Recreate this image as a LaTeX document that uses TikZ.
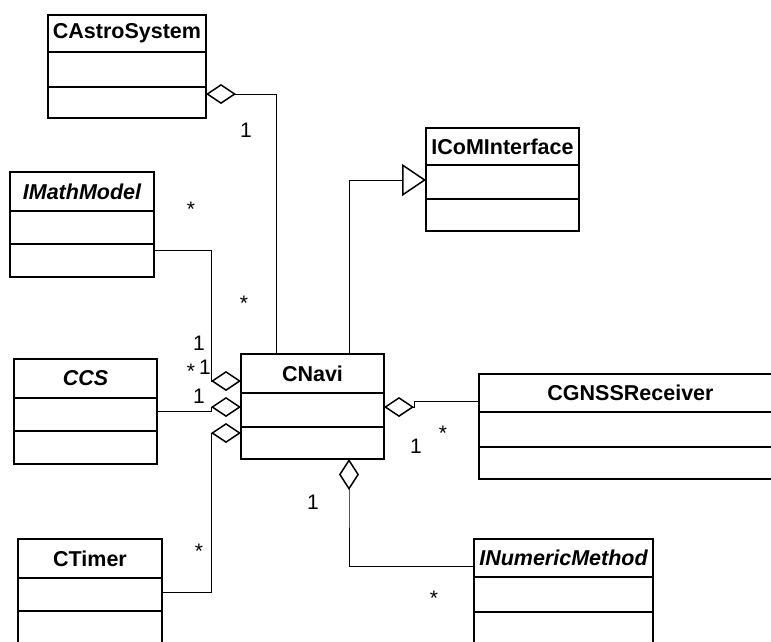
\documentclass[tikz,border=0pt]{standalone}
\usepackage{fontspec}
\setmainfont{Liberation Sans}
\usetikzlibrary{arrows.meta}

\tikzset{
  classbox/.style={draw=black, line width=1.6pt, fill=white, inner sep=0pt, outer sep=0pt, rectangle},
  divider/.style={draw=black, line width=1.6pt},
  classtitle/.style={font=\bfseries\fontsize{21.5}{25}\selectfont, inner sep=0pt},
  abstracttitle/.style={font=\bfseries\itshape\fontsize{21.5}{25}\selectfont, inner sep=0pt},
  mult/.style={font=\fontsize{21}{25}\selectfont, inner sep=0pt},
  link/.style={draw=black, line width=1pt},
  aggr/.style={link, {Diamond[open, length=30pt, width=20pt, line width=1.5pt]}-},
  aggrv/.style={link, {Diamond[open, length=31pt, width=20pt, line width=1.5pt]}-},
  realize/.style={link, -{Triangle[open, length=24pt, width=32pt, line width=1.5pt]}},
}

% #1 name, #2 left, #3 top, #4 right, #5 bottom, #6 first divider, #7 second divider, #8 title style, #9 title
\newcommand\umlclass[9]{%
  \node[classbox, minimum width={(#4-(#2))*1pt}, minimum height={(#5-(#3))*1pt}, anchor=north west] (#1) at (#2,#3) {};
  \draw[divider] (#2,#6) -- (#4,#6) (#2,#7) -- (#4,#7);
  \node[#8] (#1-title) at ({(#2+#4)/2},{(#3+#6)/2}) {#9};
}

\begin{document}
\begin{tikzpicture}[x=1pt, y=-1pt]
  \useasboundingbox (0,0) rectangle (771,641);
  \fill[white] (0,0) rectangle (771,641);
  \clip (0,0) rectangle (771,641);

  % classes
  \umlclass{castro}{48}{15}{206}{118}{52}{87}{classtitle}{CAstroSystem}
  \umlclass{icom}{426}{128}{579}{231}{165}{199}{classtitle}{ICoMInterface}
  \umlclass{mathmodel}{10}{172}{154}{277}{211}{244}{abstracttitle}{IMathModel}
  \umlclass{ccs}{14}{359}{157}{464}{398}{431}{abstracttitle}{CCS}
  \umlclass{cnavi}{241}{354}{384}{459}{393}{427}{classtitle}{CNavi}
  \umlclass{gnss}{479}{374}{782}{479}{412}{447}{classtitle}{CGNSSReceiver}
  \umlclass{ctimer}{18}{539}{162}{650}{578}{611}{classtitle}{CTimer}
  \umlclass{numeric}{474}{539}{653}{650}{577}{612}{abstracttitle}{INumericMethod}

  % aggregations
  \draw[aggr] (castro.east |- 0,94) -| (cnavi.north -| 276,0);
  \draw[aggr] (cnavi.west |- 0,381) -- (211,381) |- (mathmodel.east |- 0,250);
  \draw[aggr] (cnavi.west |- 0,407) -- (211,407) -- (211,411) -- (ccs.east |- 0,411);
  \draw[aggr] (cnavi.west |- 0,433) -- (211,433) |- (ctimer.east |- 0,592);
  \draw[aggr] (cnavi.east |- 0,407) -- (414,407) -- (414,401) -- (gnss.west |- 0,401);
  \draw[aggrv] (cnavi.south -| 349,0) -- (349,490) |- (numeric.west |- 0,566);

  % interface realisation
  \draw[realize] (cnavi.north -| 349,0) |- (icom.west |- 0,180);

  % multiplicities
  \node[mult] (m-astro-1) at (246,130) {1};
  \node[mult] (m-astro-2) at (244,303) {*};
  \node[mult] (m-math-1) at (191,209) {*};
  \node[mult] (m-math-2) at (199,343) {1};
  \node[mult] (m-ccs-1) at (191,371) {*};
  \node[mult] (m-ccs-2) at (205,367) {1};
  \node[mult] (m-ccs-3) at (199,396) {1};
  \node[mult] (m-timer) at (199,551) {*};
  \node[mult] (m-gnss-1) at (416,446) {1};
  \node[mult] (m-gnss-2) at (443,433) {*};
  \node[mult] (m-num-1) at (313,502) {1};
  \node[mult] (m-num-2) at (434,598) {*};
\end{tikzpicture}
\end{document}
